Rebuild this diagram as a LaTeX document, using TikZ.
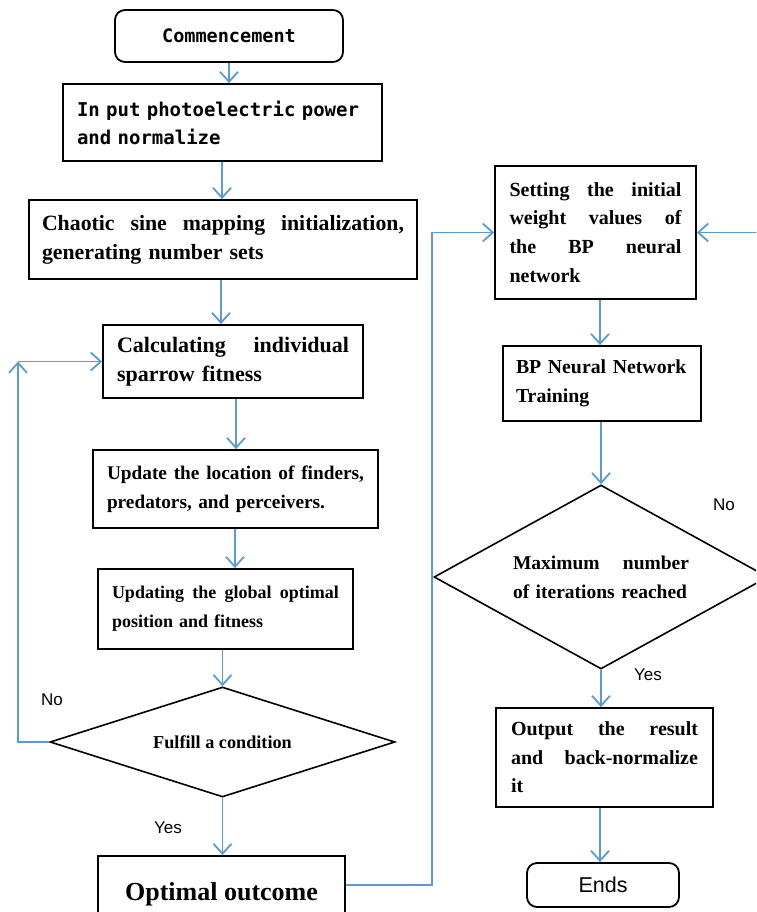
\documentclass[tikz,border=0pt]{standalone}
\usepackage{fontspec}
\setmainfont{Liberation Serif}
\newfontfamily\monof{DejaVu Sans Mono}
\newfontfamily\sansf{Liberation Sans}
\usetikzlibrary{arrows.meta,shapes.geometric}
\definecolor{flowblue}{HTML}{5B9BD5}
\newcommand{\jstretch}[2]{\makebox[#1][s]{\spaceskip=0pt\xspaceskip=0pt\relax #2}}
\tikzset{
 procbox/.style={draw=black, line width=1.8pt, rectangle, inner xsep=14pt, inner ysep=0pt, align=left, font=\bfseries\fontsize{21.8}{29}\selectfont},
 termbox/.style={draw=black, line width=1.8pt, rounded corners=10pt, inner sep=0pt, align=center},
 decis/.style={draw=black, line width=1.6pt, diamond, inner sep=0pt},
 arr/.style={draw=flowblue, line width=1.8pt, -{Straight Barb[length=10pt,width=18pt]}},
 lbl/.style={font=\sansf\fontsize{17}{20}\selectfont, inner sep=0pt},
}
\begin{document}
\begin{tikzpicture}[x=1pt,y=-1pt]
\useasboundingbox (0,0) rectangle (756,912);
\clip (0,0) rectangle (756,912);
% left column
\node[termbox, minimum width=228pt, minimum height=52pt, font=\monof\bfseries\fontsize{18.5}{22}\selectfont] (com) at (229,36) {Commencement};
\node[procbox, minimum width=319pt, minimum height=77pt, text width=291pt, font=\monof\bfseries\fontsize{19}{28}\selectfont] (inp) at (222.5,122.5) {In put photoelectric power\\and normalize};
\node[procbox, minimum width=388pt, minimum height=79pt, text width=362pt, inner xsep=13pt] (cha) at (223,239.5) {\jstretch{362pt}{Chaotic sine mapping initialization,}\\generating number sets};
\node[procbox, minimum width=260pt, minimum height=73pt, text width=232pt, font=\bfseries\fontsize{22}{29}\selectfont] (calc) at (233,361.5) {\jstretch{232pt}{Calculating individual}\\sparrow fitness};
\node[procbox, minimum width=285pt, minimum height=78pt, text width=257pt, font=\bfseries\fontsize{19.3}{29}\selectfont] (upd) at (235.5,489) {\jstretch{257pt}{Update the location of finders,}\\predators, and perceivers.};
\node[procbox, minimum width=255pt, minimum height=80pt, text width=227pt, font=\bfseries\fontsize{18}{29}\selectfont] (glob) at (225.5,609) {\jstretch{227pt}{Updating the global optimal}\\position and fitness};
\node[decis, aspect=3.14, minimum width=345pt, minimum height=110pt, font=\bfseries\fontsize{18.2}{20}\selectfont] (d1) at (222.5,742) {Fulfill a condition};
\node[procbox, minimum width=247pt, minimum height=76pt, align=center, font=\bfseries\fontsize{26}{30}\selectfont] (opt) at (221.5,894) {Optimal outcome};
% right column
\node[procbox, minimum width=201pt, minimum height=133pt, text width=172pt, inner xsep=14.5pt, font=\bfseries\fontsize{20}{28.7}\selectfont] (setw) at (595.5,232.5) {\jstretch{172pt}{Setting the initial}\\\jstretch{172pt}{weight values of}\\\jstretch{172pt}{the BP neural}\\network};
\node[procbox, inner xsep=13pt, minimum width=198pt, minimum height=75pt, text width=172pt, font=\bfseries\fontsize{19.8}{29}\selectfont] (train) at (602,383.5) {BP Neural Network\\Training};
\node[decis, aspect=1.815, minimum width=334pt, minimum height=184pt, text width=176pt, align=left, font=\bfseries\fontsize{19.5}{29}\selectfont] (d2) at (601,577) {\jstretch{176pt}{Maximum number}\\of iterations reached};
\node[procbox, minimum width=217pt, minimum height=99pt, text width=187pt, inner xsep=15pt, font=\bfseries\fontsize{20}{28.5}\selectfont] (outp) at (604.5,757.5) {\jstretch{187pt}{Output the result}\\\jstretch{187pt}{and back-normalize}\\it};
\node[termbox, minimum width=152pt, minimum height=44pt, font=\sansf\fontsize{21.5}{24}\selectfont] (ends) at (603,885) {Ends};
% helper coordinates
\coordinate (xa) at (229,0);
\coordinate (xb) at (222,0);
\coordinate (xc) at (221,0);
\coordinate (xd) at (236,0);
\coordinate (xe) at (235,0);
\coordinate (xf) at (600,0);
\coordinate (lb) at (18,742);
\coordinate (lt) at (18,361.5);
\coordinate (rb) at (432,885);
\coordinate (rt) at (432,232.5);
\coordinate (rin) at (760,232.5);
% connectors
\draw[arr] (com.south -| xa) -- (inp.north -| xa);
\draw[arr] (inp.south -| xb) -- (cha.north -| xb);
\draw[arr] (cha.south -| xc) -- (calc.north -| xc);
\draw[arr] (calc.south -| xd) -- (upd.north -| xd);
\draw[arr] (upd.south -| xe) -- (glob.north -| xe);
\draw[arr] (glob.south -| d1.north) -- (d1.north);
\draw[arr] (d1.south) -- (opt.north -| d1.south);
\draw[arr] (d1.west) -- (lb) -- (lt);
\draw[arr] (lt) -- (calc.west);
\draw[arr] ([yshift=9pt]opt.east) -- (rb) -- (rt) -- (setw.west);
\draw[arr] (rin) -- (setw.east);
\draw[arr] (setw.south -| xf) -- (train.north -| xf);
\draw[arr] (train.south -| d2.north) -- (d2.north);
\draw[arr] (d2.south) -- (outp.north -| d2.south);
\draw[arr] (outp.south -| xf) -- (ends.north -| xf);
% labels
\node[lbl] (no1) at (52,700) {No};
\node[lbl] (yes1) at (168,828) {Yes};
\node[lbl] (no2) at (724,505) {No};
\node[lbl] (yes2) at (648,675) {Yes};
\end{tikzpicture}
\end{document}
